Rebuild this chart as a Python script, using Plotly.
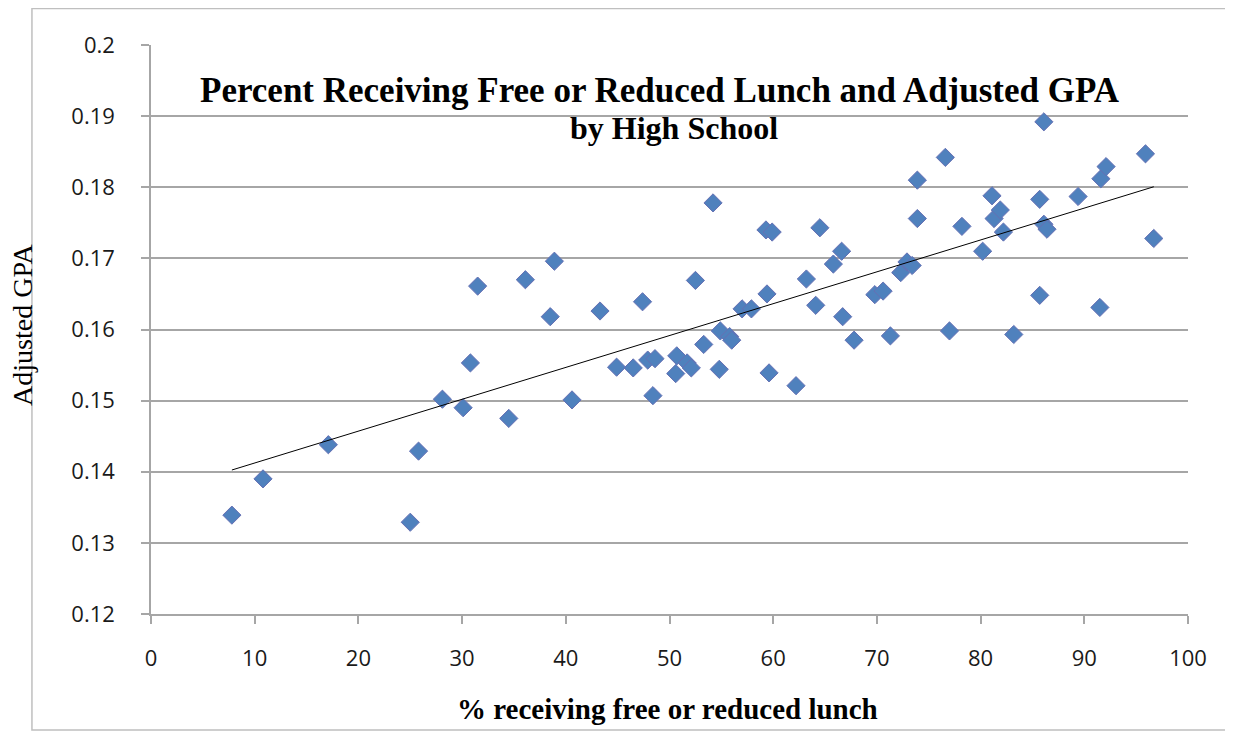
import numpy as np
import plotly.graph_objects as go

# % receiving free or reduced lunch
pct_lunch = [7.8, 10.8, 17.1, 25.0, 25.8, 28.1, 30.1, 30.8, 31.5, 34.5, 36.1, 38.5, 38.9,
             40.6, 43.3, 44.9, 46.5, 47.4, 47.9, 48.6, 48.4, 50.7, 50.6, 51.7, 52.1, 52.5,
             53.3, 54.2, 54.8, 54.9, 55.8, 56.0, 57.0, 57.9, 59.3, 59.9, 59.4, 59.6, 62.2,
             63.2, 64.1, 64.5, 65.8, 66.6, 66.7, 67.8,
             69.8, 70.6, 71.3, 72.3, 72.9, 73.4, 73.9, 73.9, 76.6, 77.0, 78.2, 80.2, 81.1,
             81.3, 81.9, 82.2, 83.2, 85.7, 85.7, 86.1, 86.1, 86.4, 89.4, 91.5, 91.6, 92.1,
             95.9, 96.7]
# Adjusted GPA
adj_gpa = [0.1339, 0.1390, 0.1438, 0.1329, 0.1429, 0.1502, 0.1490, 0.1553, 0.1661, 0.1475,
           0.1670, 0.1618, 0.1696,
           0.1501, 0.1626, 0.1547, 0.1546, 0.1639, 0.1557, 0.1559, 0.1507, 0.1563, 0.1538,
           0.1553, 0.1546, 0.1669, 0.1579, 0.1778, 0.1544, 0.1598, 0.1590, 0.1585, 0.1629,
           0.1629, 0.1740, 0.1737, 0.1650, 0.1539, 0.1521, 0.1671, 0.1634, 0.1743, 0.1692,
           0.1710, 0.1618, 0.1585,
           0.1649, 0.1654, 0.1591, 0.1680, 0.1695, 0.1690, 0.1810, 0.1756, 0.1842, 0.1598,
           0.1745, 0.1710, 0.1788, 0.1756, 0.1768, 0.1737, 0.1593, 0.1783, 0.1648, 0.1892,
           0.1748, 0.1741, 0.1787, 0.1631, 0.1812, 0.1829, 0.1847, 0.1728]

x_ticks = [0, 10, 20, 30, 40, 50, 60, 70, 80, 90, 100]
y_ticks = [0.12, 0.13, 0.14, 0.15, 0.16, 0.17, 0.18, 0.19, 0.2]
y_tick_text = ["0.12", "0.13", "0.14", "0.15", "0.16", "0.17", "0.18", "0.19", "0.2"]

title_line1 = "Percent Receiving Free or Reduced Lunch and Adjusted GPA"
title_line2 = "by High School"
x_title = "% receiving free or reduced lunch"
y_title = "Adjusted GPA"

# linear trendline (least squares) from the data
xa = np.array(pct_lunch)
ya = np.array(adj_gpa)
slope, intercept = np.polyfit(xa, ya, 1)
trend_x = [xa.min(), xa.max()]
trend_y = [slope * v + intercept for v in trend_x]

fig = go.Figure()
fig.add_trace(go.Scatter(
    x=pct_lunch, y=adj_gpa, mode="markers",
    marker=dict(symbol="diamond", size=14, color="#4F81BD",
                line=dict(color="#6670b4", width=1)),
    showlegend=False, hoverinfo="x+y"))
fig.add_trace(go.Scatter(
    x=trend_x, y=trend_y, mode="lines",
    line=dict(color="black", width=1), showlegend=False, hoverinfo="skip"))

axis_gray = "#a6a6a6"
tick_font = dict(family="Open Sans, sans-serif", size=22, color="#1a1a1a")

# page body has an 8px margin, so the figure is sized/positioned to compensate
fig.update_layout(
    width=1225, height=723,
    margin=dict(l=143, r=45, t=37, b=117, pad=0),
    paper_bgcolor="white", plot_bgcolor="white",
    xaxis=dict(range=[0, 100], tickvals=x_ticks, ticks="outside", ticklen=8,
               tickcolor=axis_gray, tickwidth=1.5, showline=True, linecolor=axis_gray,
               linewidth=1.5, showgrid=False, zeroline=False, tickfont=tick_font,
               ticklabelstandoff=16, fixedrange=True),
    yaxis=dict(range=[0.12, 0.2], tickvals=y_ticks, ticktext=y_tick_text, ticks="outside",
               ticklen=8, tickcolor=axis_gray, tickwidth=1.5, showline=True,
               linecolor=axis_gray, linewidth=1.5, showgrid=True, gridcolor=axis_gray,
               gridwidth=1.5, zeroline=False, tickfont=tick_font, ticklabelstandoff=22,
               fixedrange=True),
    font=dict(family="Liberation Serif, serif", color="black"),
)

fig.add_annotation(text=title_line1, x=0.4908, y=0.9209, xref="paper", yref="paper",
                   showarrow=False, xanchor="center", yanchor="middle",
                   font=dict(family="Liberation Serif, serif", size=35, color="black",
                             weight="bold"))
fig.add_annotation(text=title_line2, x=0.5043, y=0.8541, xref="paper", yref="paper",
                   showarrow=False, xanchor="center", yanchor="middle",
                   font=dict(family="Liberation Serif, serif", size=32, color="black",
                             weight="bold"))
fig.add_annotation(text=x_title, x=0.4985, y=-0.167, xref="paper", yref="paper",
                   showarrow=False, xanchor="center", yanchor="middle",
                   font=dict(family="Liberation Serif, serif", size=29, color="black",
                             weight="bold"))
fig.add_annotation(text=y_title, x=-0.1235, y=0.508, xref="paper", yref="paper",
                   showarrow=False, xanchor="center", yanchor="middle", textangle=-90,
                   font=dict(family="Liberation Serif, serif", size=28, color="black"))

# outer chart frame
fig.add_shape(type="rect", xref="paper", yref="paper",
              x0=-0.1148, x1=1.0386, y0=-0.2039, y1=1.0641,
              line=dict(color="#bfbfbf", width=1.5), fillcolor="rgba(0,0,0,0)",
              layer="below")

fig.write_html("out.html")
